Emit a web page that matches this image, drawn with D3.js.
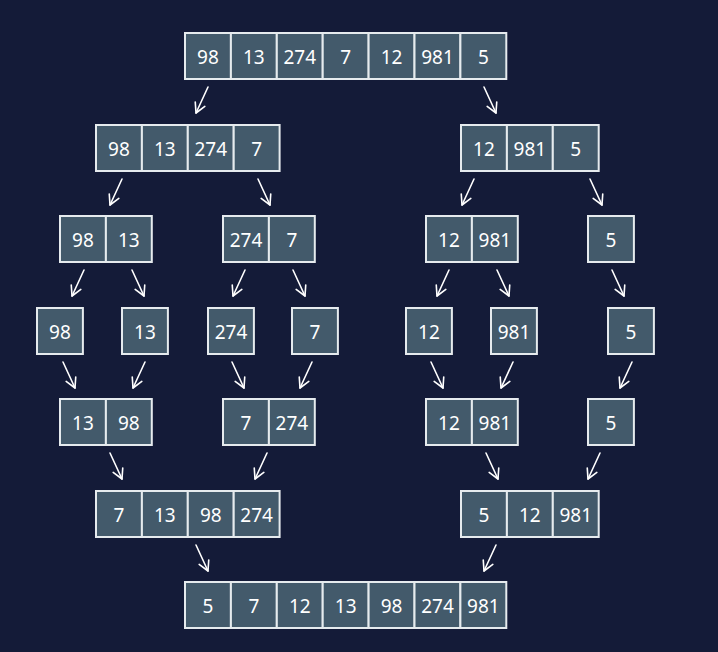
<!DOCTYPE html>
<html><head><meta charset="utf-8">
<script src="https://cdn.jsdelivr.net/npm/d3@7"></script>
<style>body{margin:0;background:#141b38;}</style>
</head><body><div id="chart"></div>
<script>
// merge sort tree: each block = [row, left x, values]
const rowTops = [33, 125, 216, 308, 399, 491, 582];
const blocks = [
  [0, 185, [98, 13, 274, 7, 12, 981, 5]],
  [1, 96, [98, 13, 274, 7]], [1, 461, [12, 981, 5]],
  [2, 60, [98, 13]], [2, 223, [274, 7]], [2, 426, [12, 981]], [2, 588, [5]],
  [3, 37, [98]], [3, 122, [13]], [3, 208, [274]], [3, 292, [7]],
  [3, 406, [12]], [3, 491, [981]], [3, 608, [5]],
  [4, 60, [13, 98]], [4, 223, [7, 274]], [4, 426, [12, 981]], [4, 588, [5]],
  [5, 96, [7, 13, 98, 274]], [5, 461, [5, 12, 981]],
  [6, 185, [5, 7, 12, 13, 98, 274, 981]]
];
// arrows: [row they leave from, start x, direction]
const arrows = [
  [0, 208, -1], [0, 484, 1],
  [1, 122, -1], [1, 258, 1], [1, 474, -1], [1, 590, 1],
  [2, 84, -1], [2, 132, 1], [2, 245, -1], [2, 293, 1], [2, 449, -1], [2, 497, 1], [2, 612, 1],
  [3, 63, 1], [3, 145, -1], [3, 232, 1], [3, 312, -1], [3, 431, 1], [3, 513, -1], [3, 632, -1],
  [4, 110, 1], [4, 267, -1], [4, 486, 1], [4, 600, -1],
  [5, 196, 1], [5, 496, -1]
];

const W = 718, H = 652, cell = 45.9;
const svg = d3.select("#chart").append("svg").attr("width", W).attr("height", H);
svg.append("rect").attr("width", W).attr("height", H).attr("fill", "#141b38");
const x = d3.scaleLinear().domain([0, W]).range([0, W]);
const y = d3.scaleOrdinal().domain(d3.range(7)).range(rowTops);

const g = svg.append("g");
blocks.forEach(function(b) {
  const bg = g.append("g").attr("transform", "translate(" + x(b[1]) + "," + y(b[0]) + ")");
  b[2].forEach(function(v, i) {
    bg.append("rect")
      .attr("x", i * cell).attr("y", 0)
      .attr("width", cell).attr("height", 46)
      .attr("fill", "#435a6b").attr("stroke", "#e6ebee").attr("stroke-width", 2);
    bg.append("text")
      .attr("x", i * cell + cell / 2).attr("y", 24)
      .attr("text-anchor", "middle").attr("dominant-baseline", "central")
      .attr("fill", "#ffffff").style("font-family", "'Noto Sans', sans-serif").style("font-size", "19px")
      .text(v);
  });
});

arrows.forEach(function(a) {
  const x1 = x(a[1]), y1 = y(a[0]) + 46 + 8;
  const x2 = x1 + a[2] * 12, y2 = y1 + 26;
  const ang = Math.atan2(y2 - y1, x2 - x1);
  const hl = 11, spread = 0.5;
  g.append("line").attr("x1", x1).attr("y1", y1).attr("x2", x2).attr("y2", y2)
    .attr("stroke", "#ffffff").attr("stroke-width", 1.6).attr("stroke-linecap", "round");
  g.append("path")
    .attr("d", "M" + (x2 - hl * Math.cos(ang - spread)) + "," + (y2 - hl * Math.sin(ang - spread)) +
      "L" + x2 + "," + y2 +
      "L" + (x2 - hl * Math.cos(ang + spread)) + "," + (y2 - hl * Math.sin(ang + spread)))
    .attr("fill", "none").attr("stroke", "#ffffff").attr("stroke-width", 1.6)
    .attr("stroke-linecap", "round").attr("stroke-linejoin", "round");
});
</script></body></html>
